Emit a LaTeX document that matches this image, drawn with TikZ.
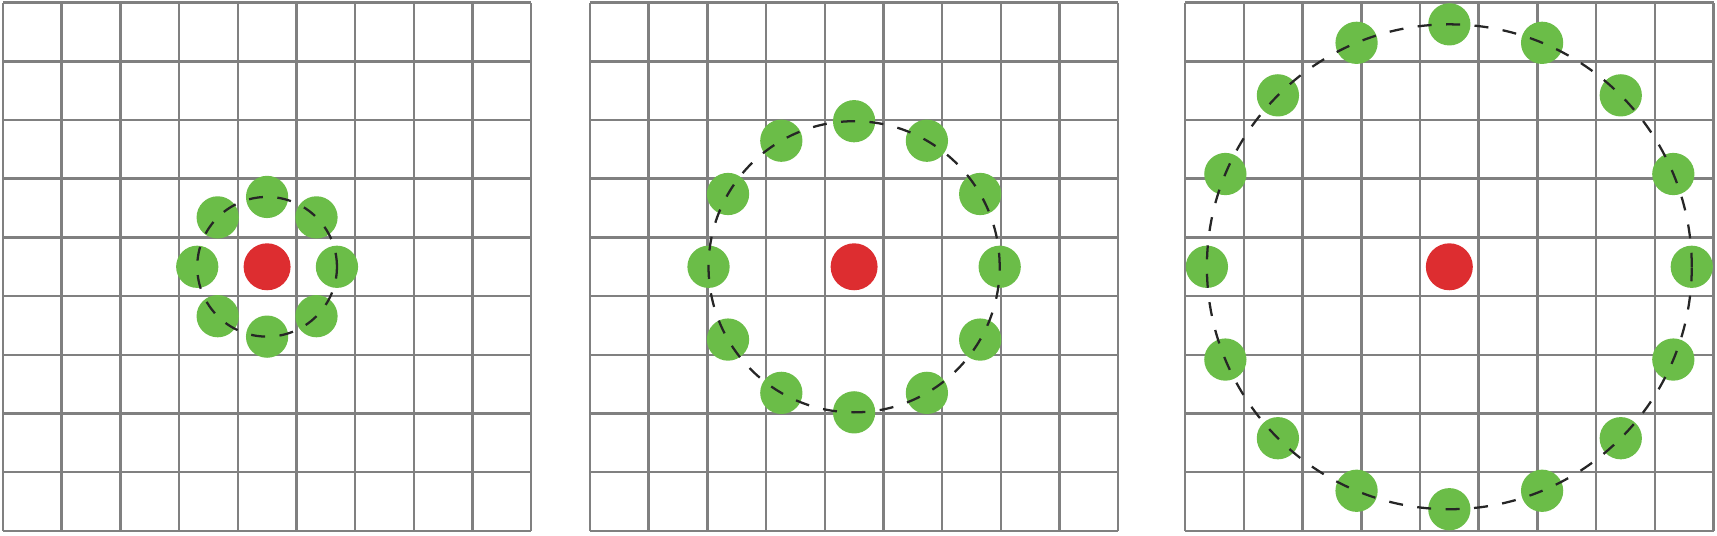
\documentclass[tikz,border=0pt]{standalone}
\usepackage{tikz}
\usetikzlibrary{positioning,calc}
\definecolor{gridgray}{RGB}{128,128,128}
\definecolor{dotgreen}{RGB}{107,189,72}
\definecolor{dotred}{RGB}{221,45,48}
\tikzset{
  gridline/.style={draw=gridgray, line width=1.2pt},
  gdot/.style={circle, fill=dotgreen, inner sep=0pt, minimum size=0.72cm},
  rdot/.style={circle, fill=dotred, inner sep=0pt, minimum size=0.8cm},
  orbit/.style={draw=black!85, line width=1.1pt, dash pattern=on 6.8pt off 7pt}
}
\begin{document}
\begin{tikzpicture}
\useasboundingbox (0,0) rectangle (29.25,9.13);

% Grid 1: 8 neighbours
\draw[gridline, shift={(0.05,0.085)}] (0,0) grid (9,9);
\node[rdot] (c1) at (4.55,4.585) {};
\foreach \i in {0,...,7}
  \node[gdot] (a\i) at ($(c1)+(\i*45:1.19)$) {};
\draw[orbit] (c1) circle (1.19);

% Grid 2: 12 neighbours
\draw[gridline, shift={(10.05,0.085)}] (0,0) grid (9,9);
\node[rdot] (c2) at (14.55,4.585) {};
\foreach \i in {0,...,11}
  \node[gdot] (b\i) at ($(c2)+(\i*30:2.48)$) {};
\draw[orbit] (c2) circle (2.48);

% Grid 3: 16 neighbours
\draw[gridline, shift={(20.19,0.085)}] (0,0) grid (9,9);
\node[rdot] (c3) at (24.69,4.585) {};
\foreach \i in {0,...,15}
  \node[gdot] (d\i) at ($(c3)+(\i*22.5:4.13)$) {};
\draw[orbit] (c3) circle (4.13);
\end{tikzpicture}
\end{document}
